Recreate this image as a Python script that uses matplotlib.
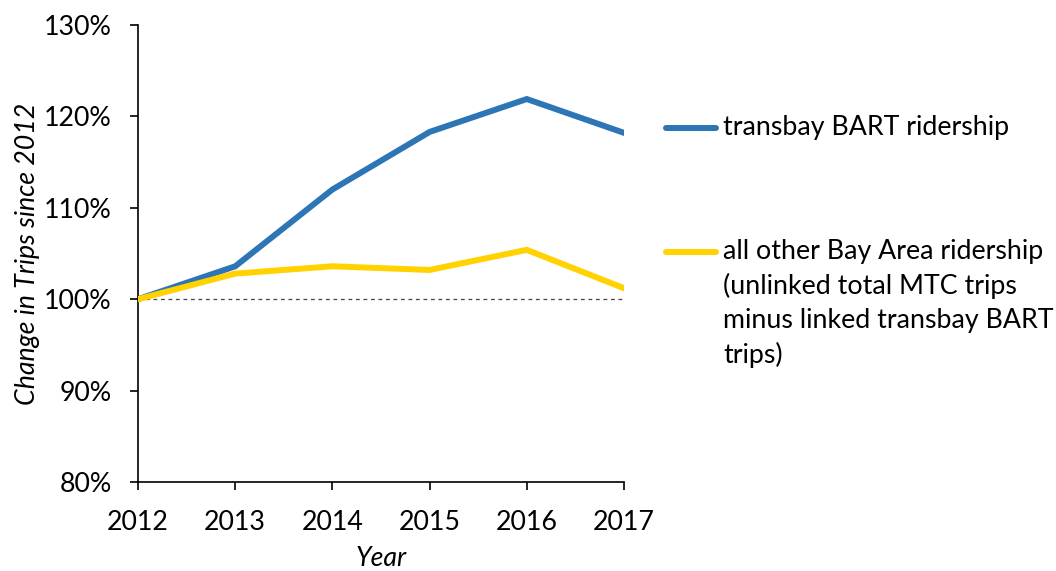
import matplotlib
matplotlib.use("Agg")
import matplotlib.pyplot as plt
from matplotlib.lines import Line2D

years = [2012, 2013, 2014, 2015, 2016, 2017]
bart = [100.0, 103.6, 112.0, 118.3, 121.9, 118.2]
other = [100.0, 102.8, 103.6, 103.2, 105.4, 101.2]
yticks = [80, 90, 100, 110, 120, 130]
label_bart = "transbay BART ridership"
label_other = ["all other Bay Area ridership", "(unlinked total MTC trips",
               "minus linked transbay BART", "trips)"]

blue = "#2E75B6"
yellow = "#FFD200"
plt.rcParams['font.family'] = ['Lato', 'DejaVu Sans']
fs = 19.3

fig = plt.figure(figsize=(10.56, 5.71), dpi=100)
ax = fig.add_axes([138/1056, 1-482/571, (624-138)/1056, (482-25)/571])

ax.plot(years, [100]*len(years), color="#404040", lw=0.9, ls=(0, (3, 3)), zorder=1)
ax.plot(years, bart, color=blue, lw=4.3, solid_joinstyle='miter', zorder=3)
ax.plot(years, other, color=yellow, lw=4.3, solid_joinstyle='miter', zorder=4)

ax.set_xlim(years[0], years[-1])
ax.set_ylim(yticks[0], yticks[-1])
ax.set_xticks(years)
ax.set_xticklabels([str(y) for y in years], fontsize=fs)
ax.set_yticks(yticks)
ax.set_yticklabels([f"{v}%" for v in yticks], fontsize=fs)
ax.tick_params(direction='out', length=6, width=1.2)
ax.tick_params(axis='y', pad=13)
ax.tick_params(axis='x', pad=14)
for s in ['top', 'right']:
    ax.spines[s].set_visible(False)
for s in ['left', 'bottom']:
    ax.spines[s].set_linewidth(1.2)
ax.set_xlabel("Year", fontsize=fs, style='italic')
ax.xaxis.set_label_coords(0.5, -(558-482)/457, transform=ax.transAxes)
ax.xaxis.label.set_va('center')
ax.set_ylabel("Change in Trips since 2012", fontsize=fs, style='italic')
ax.yaxis.set_label_coords(-(138-27)/486, 0.5, transform=ax.transAxes)
ax.yaxis.label.set_va('center')

# legend
W, H = 1056, 571
def fx(px): return px / W
def fy(py): return 1 - py / H
for yy, col in [(128, blue), (252, yellow)]:
    fig.add_artist(Line2D([fx(666), fx(716)], [fy(yy), fy(yy)], color=col, lw=4.3,
                          solid_capstyle='round', transform=fig.transFigure))
fig.text(fx(723), fy(128), label_bart, fontsize=fs, va='center', ha='left')
for i, t in enumerate(label_other):
    fig.text(fx(723), fy(252 + i*34.3), t, fontsize=fs, va='center', ha='left')

fig.savefig("out.png", dpi=100)
